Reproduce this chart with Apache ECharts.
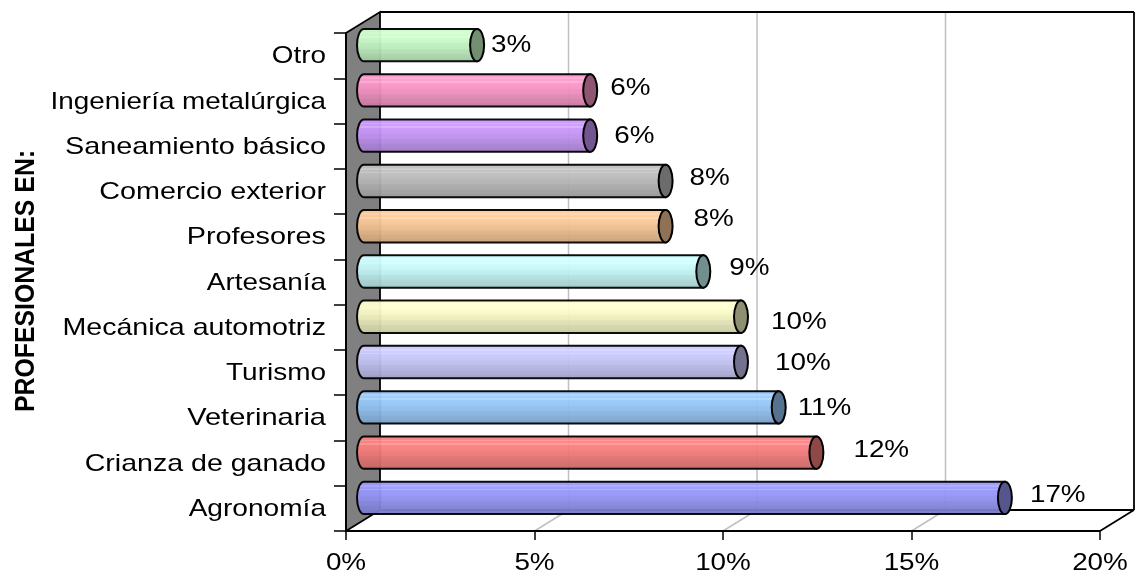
<!DOCTYPE html>
<html>
<head>
<meta charset="utf-8">
<style>html,body{margin:0;padding:0;background:#fff}#c{width:1136px;height:575px}</style>
<script src="https://cdn.jsdelivr.net/npm/echarts@6/dist/echarts.min.js"></script>
</head>
<body>
<div id="c"></div>
<script>
const categories = ['Agronomía','Crianza de ganado','Veterinaria','Turismo','Mecánica automotriz','Artesanía','Profesores','Comercio exterior','Saneamiento básico','Ingeniería metalúrgica','Otro'];
const values = [17,12,11,10,10,9,8,8,6,6,3];
const colors = ['#9999FF','#FF8080','#99CCFF','#CCCCFF','#FFFFCC','#CCFFFF','#FFCC99','#C0C0C0','#CC99FF','#FF99CC','#CCFFCC'];
const xTicks = [0,5,10,15,20];
const axisTitle = 'PROFESIONALES EN:';
// hand-placed data label offsets from the value position, as in the reference
const labelDX = [43,55,37,52,48,44,46,42,42,38,32];
const labelDY = [-13,-13,-9,-9.6,-5,-14,-17,-13.5,-10,-13,-10.6];
// horizontal stretch of each category label (the reference picture is stretched unevenly)
const labelStretch = [1.17,1.19,1.21,1.165,1.19,1.16,1.2,1.197,1.2,1.16,1.16];

const FONT = '24px "Liberation Sans", Arial, sans-serif';
const FONT_B = 'bold 24px "Liberation Sans", Arial, sans-serif';
const STRETCH = 1.16;
const DX = 34, DY = 21;         // 3D depth of the chart box
const K = 0.5523;

const bands = [[0,1],[.12,1],[.12,1.08],[.17,1.08],[.17,1.01],[.23,1.01],[.23,1.09],[.28,1.09],[.28,.99],[.45,.96],[.45,.94],[.6,.92],[.6,.89],[.75,.86],[.75,.84],[.88,.82],[.88,.8],[1,.78]];
function shade(hex,f){
  const n=parseInt(hex.slice(1),16);
  return 'rgb('+[n>>16,(n>>8)&255,n&255].map(c=>Math.round(f<=1?c*f:c+(255-c)*(f-1)*2.2)).join(',')+')';
}
const line=(a,b,c,w)=>({type:'line',shape:{x1:a[0],y1:a[1],x2:b[0],y2:b[1]},style:{stroke:c,lineWidth:w}});
const poly=(pts,fill,stroke,w)=>({type:'polygon',shape:{points:pts},style:{fill:fill,stroke:stroke,lineWidth:w,lineJoin:'miter'}});
const txt=(t,x,y,align,font,sx)=>({type:'text',x:x,y:y,scaleX:sx||STRETCH,style:{text:t,x:0,y:0,align:align,verticalAlign:'middle',font:font,fill:'#000'}});

function renderFrame(params,api){
  const g=params.coordSys, L=g.x, R=g.x+g.width, T=g.y, B=g.y+g.height;
  const c=[];
  c.push(poly([[L,B],[L+DX,B-DY],[L+DX,T-DY],[L,T]],'#808080','#000',1.8));
  xTicks.forEach(v=>{
    if(v===xTicks[0]||v===xTicks[xTicks.length-1])return;
    const x=api.coord([v,0])[0];
    c.push(line([x,B],[x+DX,B-DY],'#c0c0c0',1.5));
    c.push(line([x+DX,B-DY],[x+DX,T-DY],'#c0c0c0',1.5));
  });
  c.push(line([L+DX,T-DY],[R+DX,T-DY],'#000',1.8));
  c.push(line([R+DX,T-DY],[R+DX,B-DY],'#000',1.8));
  c.push(line([L+DX,B-DY],[R+DX,B-DY],'#000',1.8));
  c.push(line([R+DX,B-DY],[R,B],'#000',1.8));
  return {type:'group',children:c};
}
function renderBar(params,api){
  const i=api.value(1), v=api.value(0);
  const p0=api.coord([0,i]), p1=api.coord([v,i]);
  const h=api.size([0,1])[1]*0.715, ry=h/2, rx=7;
  const cy=p0[1]-DY/2, x0=p0[0]+DX/2+1, x1=p1[0]+DX/2+1;
  const col=colors[i];
  const body='M'+x0+' '+(cy-ry)+' L'+x1+' '+(cy-ry)+
    ' L'+x1+' '+(cy+ry)+' L'+x0+' '+(cy+ry)+
    ' C'+(x0-rx*K)+' '+(cy+ry)+' '+(x0-rx)+' '+(cy+ry*K)+' '+(x0-rx)+' '+cy+
    ' C'+(x0-rx)+' '+(cy-ry*K)+' '+(x0-rx*K)+' '+(cy-ry)+' '+x0+' '+(cy-ry)+' Z';
  const cap='M'+x1+' '+(cy-ry)+
    ' C'+(x1+rx*K)+' '+(cy-ry)+' '+(x1+rx)+' '+(cy-ry*K)+' '+(x1+rx)+' '+cy+
    ' C'+(x1+rx)+' '+(cy+ry*K)+' '+(x1+rx*K)+' '+(cy+ry)+' '+x1+' '+(cy+ry)+
    ' C'+(x1-rx*K)+' '+(cy+ry)+' '+(x1-rx)+' '+(cy+ry*K)+' '+(x1-rx)+' '+cy+
    ' C'+(x1-rx)+' '+(cy-ry*K)+' '+(x1-rx*K)+' '+(cy-ry)+' '+x1+' '+(cy-ry)+' Z';
  return {type:'group',children:[
    {type:'path',shape:{pathData:body},style:{
      fill:{type:'linear',x:0,y:0,x2:0,y2:1,colorStops:bands.map(b=>({offset:b[0],color:shade(col,b[1])}))},
      stroke:'#000',lineWidth:2,opacity:.95}},
    {type:'path',shape:{pathData:cap},style:{fill:shade(col,.56),stroke:'#000',lineWidth:2}}
  ]};
}
function renderLabels(params,api){
  const g=params.coordSys, c=[];
  categories.forEach((t,i)=>{
    c.push(txt(t,g.x-20,api.coord([0,i])[1]+1,'right',FONT,labelStretch[i]));
    c.push(txt(values[i]+'%',api.coord([values[i],i])[0]+labelDX[i],api.coord([0,i])[1]+labelDY[i],'left',FONT));
  });
  xTicks.forEach(v=>c.push(txt(v+'%',api.coord([v,0])[0],g.y+g.height+32,'center',FONT)));
  c.push({type:'text',x:26,y:281,rotation:Math.PI/2,scaleX:1.035,scaleY:STRETCH,
    style:{text:axisTitle,x:0,y:0,align:'center',verticalAlign:'middle',font:FONT_B,fill:'#000'}});
  return {type:'group',children:c};
}

const chart=echarts.init(document.getElementById('c'),null,{renderer:'canvas'});
chart.setOption({
  animation:false,
  backgroundColor:'#fff',
  grid:{left:346,right:36,top:33,bottom:44,containLabel:false},
  xAxis:{type:'value',min:0,max:20,interval:5,
    axisLine:{show:true,lineStyle:{color:'#000',width:1.8}},
    axisTick:{show:true,length:9,lineStyle:{color:'#000',width:1.5}},
    axisLabel:{show:false},splitLine:{show:false},z:5},
  yAxis:{type:'category',data:categories,
    axisLine:{show:true,lineStyle:{color:'#000',width:1.8}},
    axisTick:{show:true,length:12,alignWithLabel:false,lineStyle:{color:'#000',width:1.5}},
    axisLabel:{show:false},splitLine:{show:false},z:5},
  series:[
    {type:'custom',name:'frame',silent:true,z:1,renderItem:renderFrame,data:[[0,0]],encode:{x:0,y:1}},
    {type:'custom',name:'Profesionales',silent:true,z:3,renderItem:renderBar,data:values.map((v,i)=>[v,i]),encode:{x:0,y:1}},
    {type:'custom',name:'labels',silent:true,z:6,renderItem:renderLabels,data:[[0,0]],encode:{x:0,y:1}}
  ]
});
</script>
</body>
</html>
